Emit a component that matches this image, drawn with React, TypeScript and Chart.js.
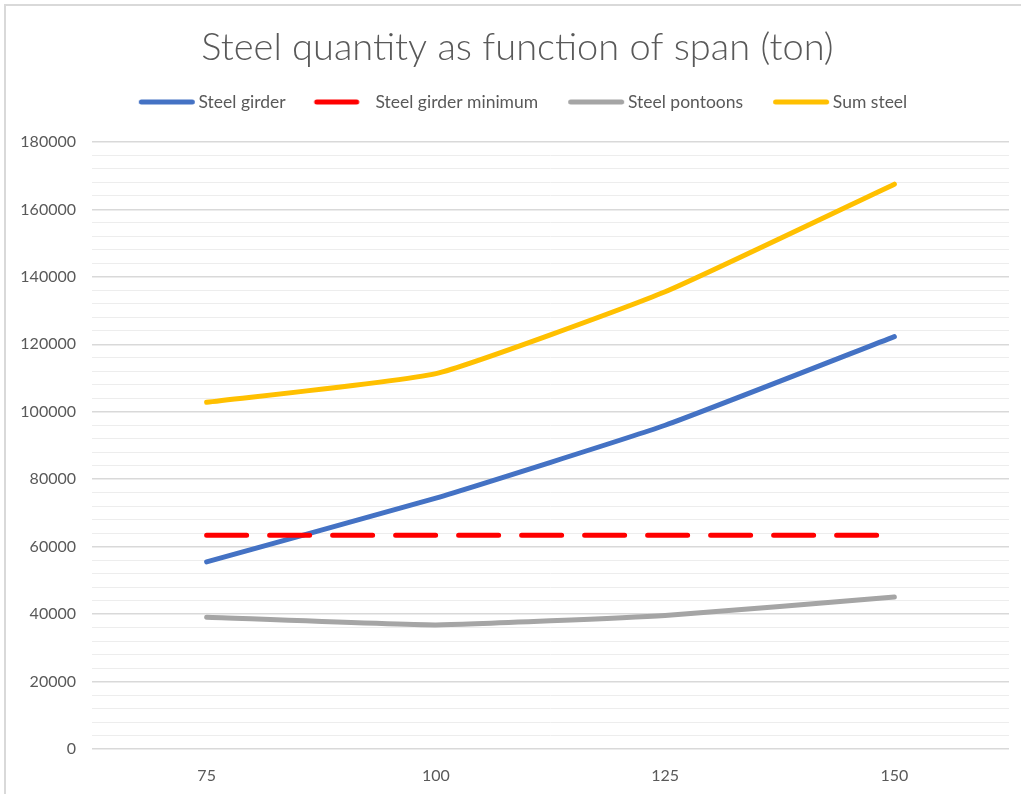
import React, { useEffect, useRef } from 'react';
import { Chart, registerables } from 'chart.js';

Chart.register(...registerables);

// Span categories (x axis)
const spans = ['75', '100', '125', '150'];

// Steel quantities in tons per span
const steelGirder = [55500, 74400, 96000, 122300];
const steelGirderMinimum = [63400, 63400, 63400, 63400];
const steelPontoons = [39100, 36800, 39600, 45100];
const sumSteel = [102800, 111300, 135600, 167500];

const seriesNames = ['Steel girder', 'Steel girder minimum', 'Steel pontoons', 'Sum steel'];
const seriesColors = ['#4472c4', '#ff0000', '#a5a5a5', '#ffc000'];

// Value axis: labelled every 20000, light minor lines every 4000
const yMax = 180000;
const yMajorStep = 20000;
const yMinorStep = 4000;

const TEXT_COLOR = '#595959';
const FONT = 'Lato';

// The chart frame is a little wider than the window; its right part is cut off
const CANVAS_W = 1035;
const CANVAS_H = 794;

// Small line swatch used as the legend symbol
function legendSwatch(color: string, dashed: boolean): HTMLCanvasElement {
  const c = document.createElement('canvas');
  c.width = 74;
  c.height = 8;
  const g = c.getContext('2d')!;
  g.strokeStyle = color;
  g.lineWidth = 5;
  g.lineCap = 'round';
  g.beginPath();
  if (dashed) {
    g.moveTo(18, 4);
    g.lineTo(58, 4);
  } else {
    g.moveTo(19.5, 4);
    g.lineTo(70.5, 4);
  }
  g.stroke();
  return c;
}

export default function App() {
  const canvasRef = useRef<HTMLCanvasElement | null>(null);

  useEffect(() => {
    const canvas = canvasRef.current;
    if (!canvas) return;

    const values = [steelGirder, steelGirderMinimum, steelPontoons, sumSteel];
    const drawOrder = [4, 3, 2, 1];

    const datasets = values.map((data, i) => ({
      label: seriesNames[i],
      data,
      yAxisID: 'y',
      borderColor: seriesColors[i],
      backgroundColor: seriesColors[i],
      borderWidth: 5,
      borderDash: i === 1 ? [40, 23] : [],
      borderCapStyle: 'round' as const,
      borderJoinStyle: 'round' as const,
      tension: i === 1 ? 0 : 0.14,
      pointRadius: 0,
      pointHoverRadius: 0,
      pointStyle: legendSwatch(seriesColors[i], i === 1),
      order: drawOrder[i],
      fill: false,
    }));

    const chart = new Chart(canvas, {
      type: 'line',
      data: { labels: spans, datasets },
      options: {
        animation: false,
        responsive: false,
        devicePixelRatio: 1,
        layout: { padding: { left: 0, right: 0, top: 0, bottom: 9 } },
        font: { family: FONT },
        plugins: {
          title: {
            display: true,
            text: 'Steel quantity as function of span (ton)',
            color: TEXT_COLOR,
            font: { family: FONT, size: 38, weight: 300 as any, lineHeight: 1 },
            padding: { top: 29, bottom: 7.25 },
          },
          subtitle: {
            // spacer between legend and plot area
            display: true,
            text: '',
            weight: 500,
            font: { size: 1, lineHeight: 1 },
            padding: { top: 20.25, bottom: 0 },
          } as any,
          legend: {
            display: true,
            position: 'top',
            labels: {
              color: TEXT_COLOR,
              font: { family: FONT, size: 17.5 },
              usePointStyle: true,
              pointStyleWidth: 62,
              padding: 19,
              sort: (a: any, b: any) => a.datasetIndex - b.datasetIndex,
            },
          },
          tooltip: { enabled: false },
        },
        scales: {
          x: {
            offset: true,
            afterFit: (scale: any) => {
              scale.height = 36;
            },
            grid: { display: false, drawTicks: false },
            border: { display: false },
            ticks: {
              color: TEXT_COLOR,
              font: { family: FONT, size: 16 },
              padding: 17,
            },
          },
          y: {
            min: 0,
            max: yMax,
            afterFit: (scale: any) => {
              scale.width = 92;
            },
            border: { display: false },
            grid: {
              drawTicks: false,
              color: (ctx: any) =>
                ctx.tick && ctx.tick.value % yMajorStep === 0 ? '#d9d9d9' : '#ededed',
              lineWidth: (ctx: any) =>
                ctx.tick && ctx.tick.value % yMajorStep === 0 ? 1.5 : 1,
            },
            ticks: {
              stepSize: yMinorStep,
              maxTicksLimit: 100,
              autoSkip: false,
              color: TEXT_COLOR,
              font: { family: FONT, size: 16 },
              padding: 16,
              callback: (v: any) => (Number(v) % yMajorStep === 0 ? String(v) : ''),
            },
          },
          // empty right-hand margin of the plot area
          yRight: {
            type: 'linear',
            position: 'right',
            display: true,
            afterFit: (scale: any) => {
              scale.width = 26;
            },
            grid: { display: false, drawTicks: false },
            border: { display: false },
            ticks: { display: false },
          },
        },
      },
    });

    return () => chart.destroy();
  }, []);

  return (
    <div style={{ position: 'fixed', inset: 0, overflow: 'hidden', background: '#ffffff' }}>
      <canvas
        ref={canvasRef}
        width={CANVAS_W}
        height={CANVAS_H}
        style={{ position: 'absolute', left: 0, top: 0, width: CANVAS_W, height: CANVAS_H }}
      />
      <div
        style={{
          position: 'absolute',
          left: 4,
          top: 4,
          width: 1100,
          height: 900,
          border: '2px solid #d9d9d9',
          pointerEvents: 'none',
        }}
      />
    </div>
  );
}
